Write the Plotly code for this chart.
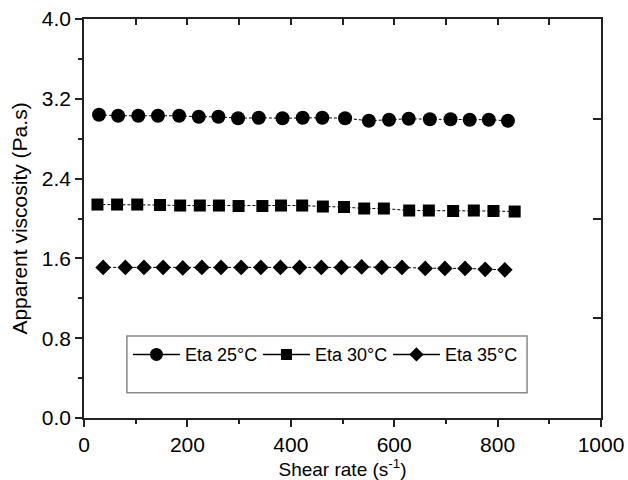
import plotly.graph_objects as go

# Shear rate (1/s) and apparent viscosity (Pa.s) at three temperatures
shear_25 = [29, 66, 105, 143, 184, 222, 260, 298, 338, 384, 423, 461, 505, 551, 590, 628, 669, 709, 746, 783, 820]
eta_25 = [3.04, 3.03, 3.03, 3.03, 3.03, 3.02, 3.02, 3.005, 3.01, 3.005, 3.01, 3.01, 3.005, 2.98, 2.99, 3.0, 2.995, 2.995, 2.99, 2.99, 2.98]

shear_30 = [26, 64, 103, 147, 186, 224, 261, 299, 345, 381, 422, 462, 503, 542, 580, 629, 667, 714, 754, 792, 833]
eta_30 = [2.14, 2.14, 2.14, 2.135, 2.13, 2.13, 2.13, 2.125, 2.125, 2.13, 2.13, 2.12, 2.115, 2.10, 2.10, 2.08, 2.08, 2.075, 2.08, 2.075, 2.07]

shear_35 = [37, 80, 116, 153, 191, 228, 265, 304, 342, 380, 417, 459, 498, 537, 576, 615, 660, 698, 737, 776, 814]
eta_35 = [1.51, 1.51, 1.51, 1.51, 1.505, 1.51, 1.51, 1.51, 1.51, 1.51, 1.51, 1.51, 1.51, 1.515, 1.51, 1.51, 1.50, 1.50, 1.50, 1.49, 1.485]

series_names = ["Eta 25°C", "Eta 30°C", "Eta 35°C"]
series_symbols = ["circle", "square", "diamond"]
series_sizes = [14, 12, 12]

x_ticks = [0, 200, 400, 600, 800, 1000]
y_ticks = [0.0, 0.8, 1.6, 2.4, 3.2, 4.0]

FONT = "Arial, 'Liberation Sans', sans-serif"

fig = go.Figure()

for xs, ys, name, sym, size in zip(
    [shear_25, shear_30, shear_35], [eta_25, eta_30, eta_35],
    series_names, series_symbols, series_sizes,
):
    # data: markers joined by a thin dashed line
    fig.add_trace(go.Scatter(
        x=xs, y=ys, mode="lines+markers", name=name, showlegend=False,
        line=dict(color="black", width=1, dash="3px,2px"),
        marker=dict(symbol=sym, size=size, color="black"),
    ))
    # legend key with a solid line
    fig.add_trace(go.Scatter(
        x=[None], y=[None], mode="lines+markers", name=name,
        line=dict(color="black", width=1.5),
        marker=dict(symbol=sym, size=size - 1, color="black"),
    ))

# transparent copy on the mirrored axes so the top and right frame get drawn
fig.add_trace(go.Scatter(
    x=shear_25, y=eta_25, xaxis="x2", yaxis="y2", mode="markers",
    marker=dict(opacity=0), showlegend=False, hoverinfo="skip",
))

axis_common = dict(
    showline=True, linecolor="#222", linewidth=1.5, mirror=False,
    showgrid=False, zeroline=False, tickcolor="#222", automargin=False,
)

fig.update_layout(
    width=628, height=480,
    margin=dict(l=84, r=27, t=19, b=62),
    paper_bgcolor="white", plot_bgcolor="white",
    font=dict(family=FONT, color="black"),
    xaxis=dict(
        **axis_common, range=[0, 1000], tickvals=x_ticks,
        ticks="outside", ticklen=7, tickwidth=1.5,
        minor=dict(dtick=100, ticks="outside", ticklen=4, tickwidth=1.5, tickcolor="#222"),
        tickfont=dict(size=21),
        title=dict(text="Shear rate (s<sup>-1</sup>)", font=dict(size=19), standoff=10),
    ),
    yaxis=dict(
        **axis_common, range=[0, 4.0], tickvals=y_ticks, tickformat=".1f",
        ticks="outside", ticklen=7, tickwidth=1.5,
        minor=dict(dtick=0.4, ticks="outside", ticklen=4, tickwidth=1.5, tickcolor="#222"),
        tickfont=dict(size=21),
        title=dict(text="Apparent viscosity (Pa.s)", font=dict(size=21), standoff=8),
    ),
    xaxis2=dict(
        **axis_common, range=[0, 1000], overlaying="x", anchor="y2", side="top",
        dtick=100, ticks="inside", ticklen=6, tickwidth=1.5, showticklabels=False,
    ),
    yaxis2=dict(
        **axis_common, range=[0, 4.0], overlaying="y", anchor="x2", side="right",
        dtick=1.0, ticks="inside", ticklen=8, tickwidth=1.5, showticklabels=False,
    ),
    legend=dict(
        orientation="h", x=0.085, y=0.205, xanchor="left", yanchor="top",
        bgcolor="rgba(0,0,0,0)", borderwidth=0, itemwidth=47,
        entrywidth=68, entrywidthmode="pixels",
        font=dict(size=18, family=FONT), tracegroupgap=0,
    ),
    shapes=[dict(
        type="rect", xref="paper", yref="paper",
        x0=0.083, x1=0.857, y0=0.063, y1=0.2055,
        line=dict(color="#888", width=1.5), fillcolor="rgba(0,0,0,0)", layer="below",
    )],
)

fig.write_html("out.html")
